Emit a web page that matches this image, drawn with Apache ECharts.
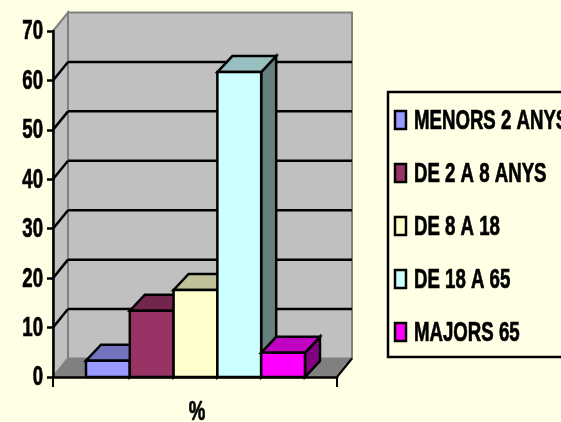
<!DOCTYPE html>
<html><head><meta charset="utf-8">
<style>html,body{margin:0;padding:0;background:#FFFFE5;overflow:hidden}#c{width:561px;height:422px}</style>
<script src="https://cdn.jsdelivr.net/npm/echarts@6/dist/echarts.min.js"></script>
</head><body><div id="c"></div>
<script>
const categories = ['%'];
const seriesNames = ['MENORS 2 ANYS','DE 2 A 8 ANYS','DE 8 A 18','DE 18 A 65','MAJORS 65'];
const seriesValues = [3.3, 13.4, 17.6, 61.7, 4.9];
const frontColors = ['#9999FF','#993366','#FFFFCC','#CCFFFF','#FF00FF'];
const topColors = ['#7373C0','#73264D','#C0C099','#99C0C0','#C000C0'];
const sideColors = ['#4D4D80','#4D1A33','#808066','#668080','#800080'];
const yTicks = [0,10,20,30,40,50,60,70];
const yMin = 0, yMax = 70, yStep = 10;

const DX = 15, DY = -18.5;
const FONT_FAMILY = '"Liberation Sans",Arial,sans-serif';
const FONT = 'bold 27px ' + FONT_FAMILY;
const SQUEEZE = 0.69;
const TEXT_STYLE = {fill:'#000', stroke:'#000', lineWidth:0.7, font:FONT, verticalAlign:'middle'};
const chart = echarts.init(document.getElementById('c'));

function poly(points, fill, stroke, lw) {
  return {type:'polygon', shape:{points}, style:{fill, stroke, lineWidth:lw, lineJoin:'miter'}};
}
function line(a, b, stroke, lw) {
  return {type:'line', shape:{x1:a[0],y1:a[1],x2:b[0],y2:b[1]}, style:{stroke, lineWidth:lw}};
}
function label(text, x, y, align) {
  return {type:'text', x, y, scaleX:SQUEEZE, z2:50,
    style:Object.assign({text:String(text), align}, TEXT_STYLE)};
}
function renderWalls(params, api) {
  const x0 = params.coordSys.x, x1 = x0 + params.coordSys.width;
  const b = api.coord([0, yMin])[1], t = api.coord([0, yMax])[1];
  const kids = [
    poly([[x0+DX,t+DY],[x1+DX,t+DY],[x1+DX,b+DY],[x0+DX,b+DY]], '#C0C0C0', '#808080', 2),
    poly([[x0,t],[x0+DX,t+DY],[x0+DX,b+DY],[x0,b]], '#C0C0C0', '#808080', 2),
    poly([[x0,b],[x0+DX,b+DY],[x1+DX,b+DY],[x1,b]], '#808080', '#808080', 1),
    line([x1,b],[x1+DX,b+DY],'#000',2)
  ];
  yTicks.forEach(v => {
    const y = api.coord([0, v])[1];
    kids.push(label(v, x0-10, y+1, 'right'));
    if (v > yMin && v < yMax) {
      kids.push(line([x0,y],[x0+DX,y+DY],'#000',2.5));
      kids.push(line([x0+DX,y+DY],[x1+DX,y+DY],'#000',2.5));
    }
  });
  kids.push(label(categories[0], (x0+x1)/2+2, b+36, 'center'));
  return {type:'group', children:kids};
}
function renderBar(i) {
  return function (params, api) {
    const size = api.size([1, 0])[0];
    const w = size * 0.1542, lead = size * 0.1162;
    const x = params.coordSys.x + lead + i * w;
    const y = api.coord([0, api.value(1)])[1];
    const b = api.coord([0, yMin])[1];
    const dx = DX, dy = DY + 2.5;
    return {type:'group', children:[
      poly([[x+w,y],[x+w+dx,y+dy],[x+w+dx,b+dy],[x+w,b]], sideColors[i], '#000', 2.5),
      poly([[x,y],[x+dx,y+dy],[x+w+dx,y+dy],[x+w,y]], topColors[i], '#000', 2.5),
      poly([[x,y],[x+w,y],[x+w,b],[x,b]], frontColors[i], '#000', 2.5)
    ]};
  };
}
const bars = seriesNames.map((name, i) => ({
  name, type:'custom', coordinateSystem:'cartesian2d', clip:false, z:3+i,
  encode:{x:0,y:1}, data:[[0, seriesValues[i]]], renderItem:renderBar(i)
}));
const legendRows = [120,173,226,279,332];
const legendGraphic = [
  {type:'rect', shape:{x:388,y:92,width:200,height:265}, style:{fill:'none',stroke:'#000',lineWidth:2.5}}
];
seriesNames.forEach((name, i) => {
  const y = legendRows[i];
  legendGraphic.push({type:'rect', shape:{x:395,y:y-9,width:11,height:18},
    style:{fill:frontColors[i],stroke:'#000',lineWidth:2.5}});
  legendGraphic.push({type:'text', x:414, y:y+2, scaleX:SQUEEZE,
    style:Object.assign({text:name, align:'left'}, TEXT_STYLE)});
});
chart.setOption({
  animation:false,
  backgroundColor:'#FFFFE5',
  grid:{left:53, top:31, width:284, height:346},
  xAxis:{type:'category', data:categories, axisLine:{lineStyle:{color:'#000',width:2.5}},
    axisTick:{show:true, length:10, alignWithLabel:false, lineStyle:{color:'#000',width:2}},
    axisLabel:{show:false}, z:10},
  yAxis:{type:'value', min:yMin, max:yMax, interval:yStep, splitLine:{show:false},
    axisLine:{show:true, lineStyle:{color:'#000',width:2.5}},
    axisTick:{show:true, length:6, lineStyle:{color:'#000',width:2.5}},
    axisLabel:{show:false}, z:10},
  graphic:legendGraphic,
  series:[{type:'custom', coordinateSystem:'cartesian2d', clip:false, silent:true, z:1,
    data:[[0,0]], encode:{x:0,y:1}, renderItem:renderWalls}].concat(bars)
});
</script></body></html>
